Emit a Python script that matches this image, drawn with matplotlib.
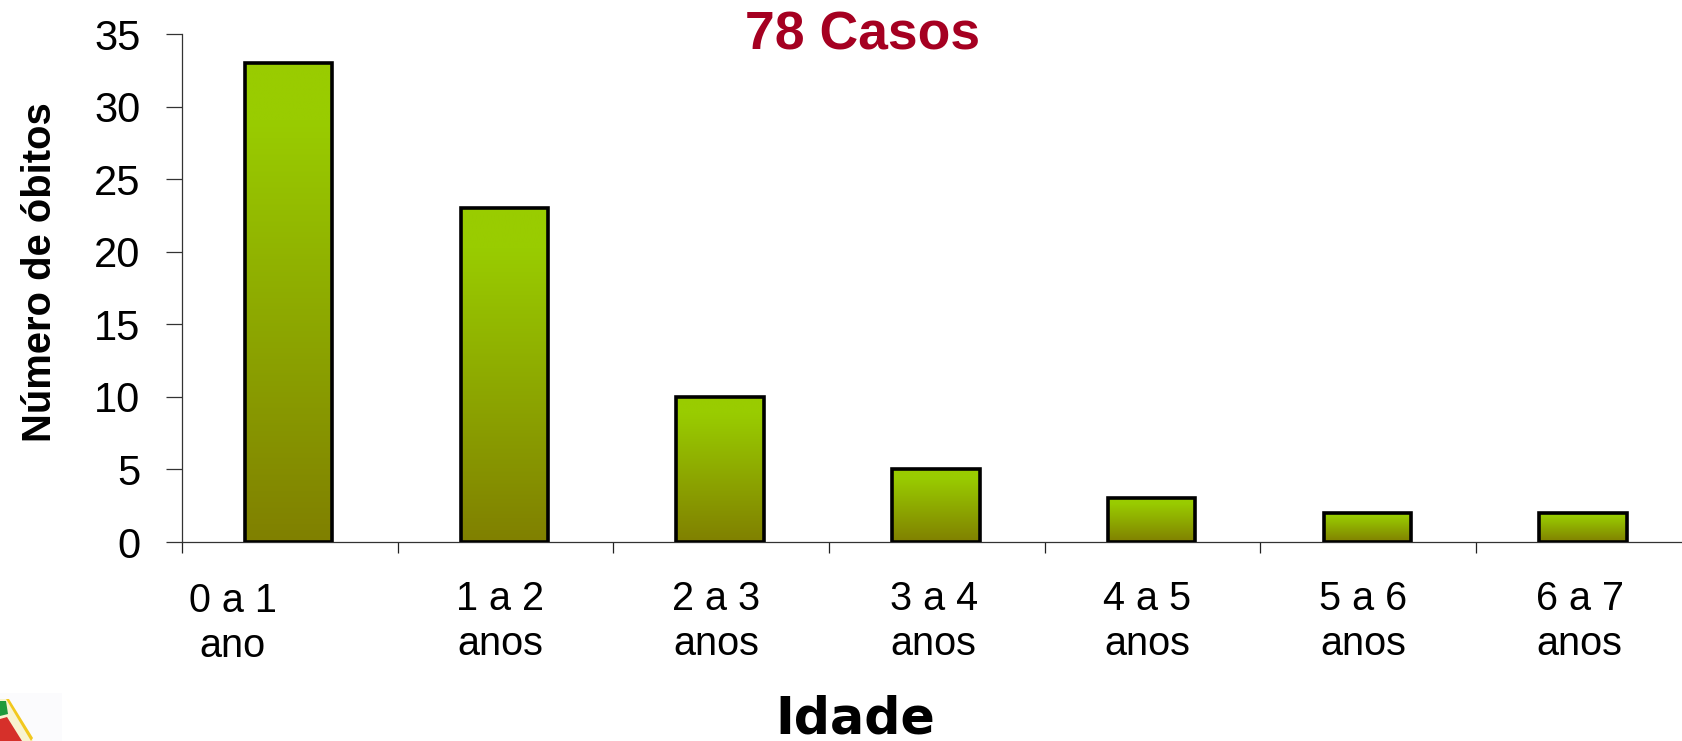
import numpy as np
import matplotlib
matplotlib.use("Agg")
import matplotlib.pyplot as plt
from matplotlib.colors import LinearSegmentedColormap
from matplotlib.patches import Polygon, Rectangle

plt.rcParams['font.family'] = ['Liberation Sans', 'DejaVu Sans']

categories = ['0 a 1\nano', '1 a 2\nanos', '2 a 3\nanos', '3 a 4\nanos',
              '4 a 5\nanos', '5 a 6\nanos', '6 a 7\nanos']
obitos = [33, 23, 10, 5, 3, 2, 2]
yticks = [0, 5, 10, 15, 20, 25, 30, 35]

W, H = 1682, 741
fig = plt.figure(figsize=(W / 100, H / 100), dpi=100)
fig.patch.set_facecolor('white')

# axis runs slightly past the right edge of the picture, like the reference
x0, x1 = 182, 182 + 7 * 215.7
y0, y1 = 542, 34
ax = fig.add_axes([x0 / W, 1 - y0 / H, (x1 - x0) / W, (y0 - y1) / H])

# bars: gradient from light green (top) to olive (bottom)
cmap = LinearSegmentedColormap.from_list('bar', [(0, '#99CC00'), (0.12, '#99CC00'), (1, '#808000')])
grad = np.linspace(0, 1, 256).reshape(-1, 1)
bar_w = 0.405
for i, v in enumerate(obitos):
    left = i + 0.495 - bar_w / 2
    ax.imshow(grad, cmap=cmap, aspect='auto', zorder=2,
              extent=[left, left + bar_w, 0, v], interpolation='bilinear')
    ax.add_patch(Rectangle((left, 0), bar_w, v, fill=False, ec='black', lw=2.6, zorder=3))
ax.set_xlim(0, 7)
ax.set_ylim(0, 35)

ax.spines['top'].set_visible(False)
ax.spines['right'].set_visible(False)
for s in ['left', 'bottom']:
    ax.spines[s].set_linewidth(0.9)
    ax.spines[s].set_color('#333333')

ax.set_yticks(yticks)
ax.tick_params(axis='y', length=11.5, width=0.9, labelsize=30, pad=18.5, color='#333333')
ax.set_xticks(range(8))
ax.set_xticklabels([])
ax.tick_params(axis='x', length=8, width=0.9, color='#222222')

# category labels sit by hand, a bit off the tick centres
label_x = [0.235, 1.475, 2.475, 3.485, 4.475, 5.475, 6.48]
for i, (x, lab) in enumerate(zip(label_x, categories)):
    off = -29 if i == 0 else -27.5
    ax.annotate(lab, (x, 0), xytext=(0, off), textcoords='offset points', ha='center', va='top',
                fontsize=28.5, linespacing=1.24, annotation_clip=False)

fig.text(863 / W, 1 - 36 / H, '78 Casos', color='#A50021', fontsize=38.5, fontweight='bold',
         ha='center', va='center')
fig.text(40 / W, 1 - 272 / H, 'Número de óbitos', rotation=90, fontsize=28.8, fontweight='bold',
         ha='center', va='center')
fig.text(855 / W, 1 - 733 / H, 'Idade', fontsize=36.5, fontweight='bold', family='DejaVu Sans',
         ha='center', va='baseline')

# little logo cut off in the bottom left corner
logo = fig.add_axes([0, 0, 1, 1], facecolor='none')
logo.set_xlim(0, W)
logo.set_ylim(H, 0)
logo.axis('off')
logo.add_patch(Rectangle((0, 693), 62, 48, fc='#FBFBFD', ec='none'))
logo.add_patch(Polygon([(0, 699), (6, 699), (33, 741), (0, 741)], fc='#F8F3D0', ec='none'))
logo.add_patch(Polygon([(6, 699), (9, 699), (33, 738), (31, 741)], fc='#F2C81E', ec='none'))
logo.add_patch(Polygon([(0, 701), (6, 701), (8, 714), (0, 716)], fc='#1E9A3C', ec='none'))
logo.add_patch(Polygon([(0, 719), (7, 717), (22, 741), (0, 741)], fc='#D6302A', ec='none'))

fig.savefig('out.png', dpi=100)
